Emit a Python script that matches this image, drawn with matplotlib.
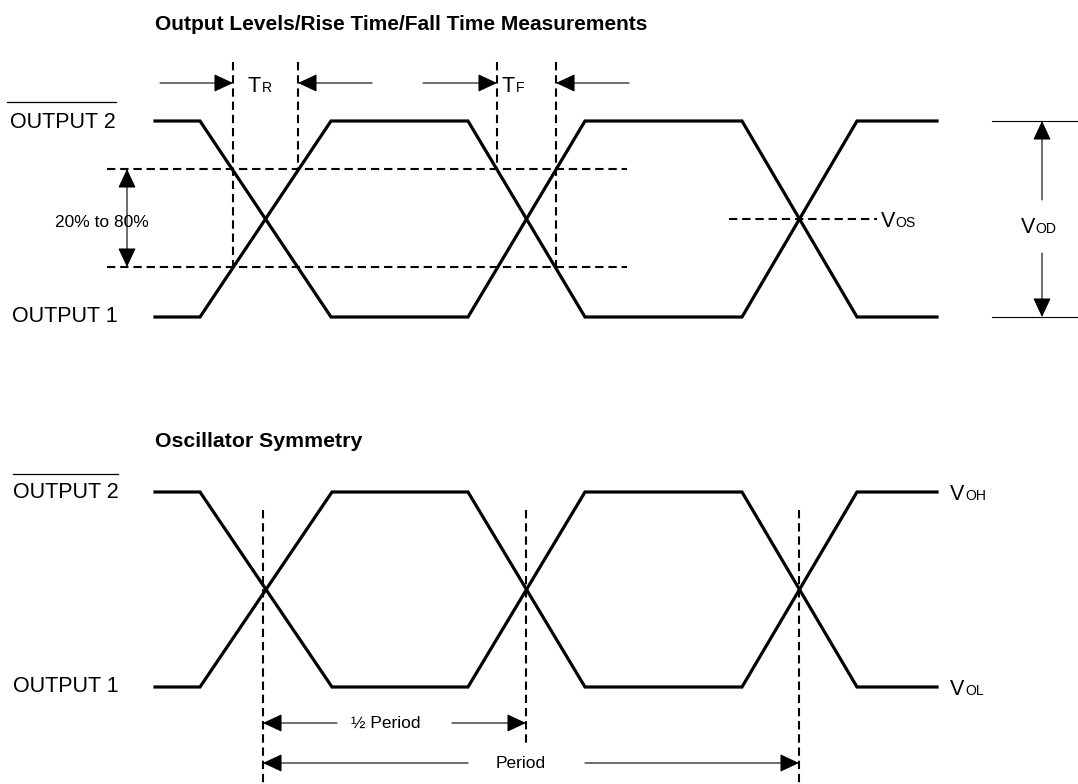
import matplotlib
matplotlib.use("Agg")
import matplotlib.pyplot as plt
from matplotlib import font_manager as fm

names = {f.name for f in fm.fontManager.ttflist}
FONT = "Liberation Sans Narrow" if "Liberation Sans Narrow" in names else "Liberation Sans"
plt.rcParams["font.family"] = [FONT, "DejaVu Sans"]
plt.rcParams["lines.scale_dashes"] = False

# ---------------- data (diagram units: x = time position, y = level position) -------------
# Top diagram: Output levels / rise / fall
top_x = [155, 200, 331, 468, 585, 742, 857, 937]
top_out2_y = [121, 121, 317, 317, 121, 121, 317, 317]
top_out1_y = [317, 317, 121, 121, 317, 317, 121, 121]
level80_y = 169
level20_y = 267
levels_x = [107, 627]
tr_x = [233, 298]          # 80%/20% crossing of rising edge
tf_x = [497, 556]
vos_x = [729, 877]
vos_y = 219

# Bottom diagram: oscillator symmetry
bot_x = [155, 200, 332, 468, 585, 742, 857, 937]
bot_out2_y = [492, 492, 687, 687, 492, 492, 687, 687]
bot_out1_y = [687, 687, 492, 492, 687, 687, 492, 492]
cross_x = [263, 526, 799]
half_y = 723
period_y = 763

W, H = 1078, 784
fig = plt.figure(figsize=(W / 100, H / 100), dpi=100)
ax = fig.add_axes([0, 0, 1, 1])
ax.set_xlim(0, W)
ax.set_ylim(H, 0)
ax.axis("off")

K = "black"
WLW = 2.3
DLW = 1.5
DASH = (6, 3.5)
ALW = 0.8
FS = 15.5


def arrow(x0, y0, x1, y1, style="-|>"):
    ax.annotate("", xy=(x1, y1), xytext=(x0, y0),
                arrowprops=dict(arrowstyle=style + ",head_length=0.6,head_width=0.28",
                                mutation_scale=20, lw=ALW, color=K,
                                shrinkA=0, shrinkB=0))


def dashed(xs, ys):
    ax.plot(xs, ys, color=K, lw=DLW, dashes=DASH, solid_capstyle="butt")


def sublabel(x, y, main, sub, size=FS):
    t = ax.text(x, y, main, fontsize=size, va="baseline", ha="left", color=K)
    fig.canvas.draw()
    bb = t.get_window_extent()
    inv = ax.transData.inverted()
    xe = inv.transform((bb.x1, bb.y0))[0]
    ax.text(xe + 0.5, y, sub, fontsize=size * 0.65, va="baseline", ha="left", color=K)


def overlined(x, y, s, y_line, x0, x1):
    ax.text(x, y, s, fontsize=FS, va="center", ha="left", color=K)
    ax.plot([x0, x1], [y_line, y_line], color=K, lw=0.9)


# ---------------- titles ----------------
ax.text(155, 24, "Output Levels/Rise Time/Fall Time Measurements", fontsize=15,
        fontweight="bold", va="center", ha="left", color=K)
ax.text(155, 441, "Oscillator Symmetry", fontsize=15.3, fontweight="bold",
        va="center", ha="left", color=K)

# ---------------- top diagram ----------------
ax.plot(top_x, top_out2_y, color=K, lw=WLW, solid_joinstyle="miter")
ax.plot(top_x, top_out1_y, color=K, lw=WLW, solid_joinstyle="miter")

dashed(levels_x, [level80_y, level80_y])
dashed(levels_x, [level20_y, level20_y])
# vertical measurement lines: each stops at the level where its edge is crossed
dashed([tr_x[0], tr_x[0]], [62, level20_y])
dashed([tr_x[1], tr_x[1]], [62, level80_y])
dashed([tf_x[0], tf_x[0]], [62, level80_y])
dashed([tf_x[1], tf_x[1]], [62, level20_y])

arrow(160, 83, tr_x[0], 83)
arrow(372, 83, tr_x[1], 83)
arrow(423, 83, tf_x[0], 83)
arrow(629, 83, tf_x[1], 83)
sublabel(248, 92, "T", "R")
sublabel(502, 92, "T", "F")

arrow(127, level20_y, 127, level80_y, style="<|-|>")
ax.text(102, 222, "20% to 80%", fontsize=12.5, va="center", ha="center", color=K)

dashed(vos_x, [vos_y, vos_y])
sublabel(881, 227, "V", "OS")

ax.plot([992, W], [121, 121], color=K, lw=ALW)
ax.plot([992, W], [317, 317], color=K, lw=ALW)
arrow(1042, 200, 1042, 121)
arrow(1042, 253, 1042, 317)
sublabel(1021, 233, "V", "OD")

overlined(10, 122, "OUTPUT 2", 102, 7, 116)
ax.text(12, 316, "OUTPUT 1", fontsize=FS, va="center", ha="left", color=K)

# ---------------- bottom diagram ----------------
ax.plot(bot_x, bot_out2_y, color=K, lw=WLW, solid_joinstyle="miter")
ax.plot(bot_x, bot_out1_y, color=K, lw=WLW, solid_joinstyle="miter")

dashed([cross_x[0], cross_x[0]], [510, H])
dashed([cross_x[1], cross_x[1]], [510, 746])
dashed([cross_x[2], cross_x[2]], [510, H])

arrow(337, half_y, cross_x[0], half_y)
arrow(452, half_y, cross_x[1], half_y)
ax.text(386, half_y, "\u00bd Period", fontsize=12.5, va="center", ha="center", color=K)
arrow(468, period_y, cross_x[0], period_y)
arrow(585, period_y, cross_x[2], period_y)
ax.text(521, period_y, "Period", fontsize=12.5, va="center", ha="center", color=K)

overlined(13, 492, "OUTPUT 2", 474, 13, 118)
ax.text(13, 687, "OUTPUT 1", fontsize=FS, va="center", ha="left", color=K)
sublabel(950, 500, "V", "OH")
sublabel(950, 695, "V", "OL")

fig.savefig("out.png", dpi=100)
